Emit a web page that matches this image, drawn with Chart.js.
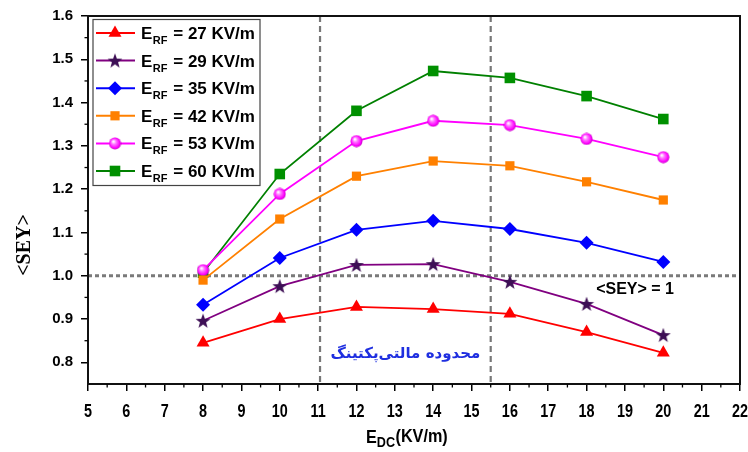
<!DOCTYPE html>
<html><head><meta charset="utf-8">
<script src="https://cdn.jsdelivr.net/npm/chart.js@4/dist/chart.umd.min.js"></script>
<style>html,body{margin:0;padding:0;background:#fff}</style>
</head><body><canvas id="c" width="748" height="452"></canvas>
<script>
const xValues = [8, 10, 12, 14, 16, 18, 20];
const fieldLabels = ['27', '29', '35', '42', '53', '60'];
const sey27 = [0.845, 0.900, 0.928, 0.923, 0.912, 0.870, 0.822];
const sey29 = [0.896, 0.976, 1.025, 1.027, 0.986, 0.935, 0.863];
const sey35 = [0.933, 1.041, 1.106, 1.127, 1.108, 1.076, 1.032];
const sey42 = [0.990, 1.131, 1.230, 1.265, 1.254, 1.217, 1.175];
const sey53 = [1.013, 1.189, 1.311, 1.358, 1.348, 1.316, 1.274];
const sey60 = [1.007, 1.235, 1.381, 1.473, 1.457, 1.415, 1.362];
const yTickValues = [0.8, 0.9, 1.0, 1.1, 1.2, 1.3, 1.4, 1.5, 1.6];
const multipactingBounds = [11.05, 15.5];
const thresholdSEY = 1.0;
const thresholdLabel = '<SEY> = 1';
const regionLabel = 'محدوده مالتی‌پکتینگ';

function makeStar(){
  const c=document.createElement('canvas');c.width=16;c.height=16;
  const g=c.getContext('2d');g.fillStyle='#3d0f55';g.beginPath();
  for(let i=0;i<10;i++){const r=i%2?3.2:7.8;const a=-Math.PI/2+i*Math.PI/5;
    g.lineTo(8+r*Math.cos(a),8.6+r*Math.sin(a));}
  g.closePath();g.fill();return c;
}
function makeSphere(){
  const c=document.createElement('canvas');c.width=13;c.height=13;
  const g=c.getContext('2d');
  const gr=g.createRadialGradient(4.8,4.5,0.5,6.5,6.5,6.5);
  gr.addColorStop(0,'#ffffff');gr.addColorStop(0.3,'#ff7cff');gr.addColorStop(0.75,'#ff00ff');gr.addColorStop(1,'#b000b0');
  g.fillStyle=gr;g.beginPath();g.arc(6.5,6.5,6,0,Math.PI*2);g.fill();return c;
}
const starImg=makeStar(), sphereImg=makeSphere();

const series=[sey27,sey29,sey35,sey42,sey53,sey60];
const lineColors=['#ff0000','#800080','#0000ff','#ff8000','#ff00ff','#008000'];
const fillColors=['#ff0000','#3d0f55','#0000ff','#ff8000','#ff00ff','#009000'];
const styles=['triangle',starImg,'rectRot','rect',sphereImg,'rect'];
const radii=[7.5,7,7,6.5,6,7.5];

const datasets=series.map((s,i)=>({
  label:'E_RF = '+fieldLabels[i]+' KV/m',
  data:xValues.map((x,j)=>({x:x,y:s[j]})),
  borderColor:lineColors[i],backgroundColor:fillColors[i],
  pointBackgroundColor:fillColors[i],pointBorderColor:fillColors[i],
  pointStyle:styles[i],pointRadius:radii[i],pointBorderWidth:0,
  borderWidth:1.8,tension:0
}));

function narrowText(ctx,text,x,y,sx){
  ctx.save();ctx.translate(x,y);ctx.scale(sx,1);ctx.fillText(text,0,0);ctx.restore();
}

const decor={
  id:'decor',
  beforeDatasetsDraw(chart){
    const {ctx,chartArea:a,scales:{x,y}}=chart;
    ctx.save();
    ctx.strokeStyle='#777';ctx.lineWidth=2.2;ctx.setLineDash([6,4]);
    multipactingBounds.forEach(v=>{const px=x.getPixelForValue(v);
      ctx.beginPath();ctx.moveTo(px,a.top);ctx.lineTo(px,a.bottom);ctx.stroke();});
    ctx.strokeStyle='#7a7a7a';ctx.lineWidth=2.8;ctx.setLineDash([4,3]);
    const py=y.getPixelForValue(thresholdSEY);
    ctx.beginPath();ctx.moveTo(a.left,py);ctx.lineTo(a.right,py);ctx.stroke();
    ctx.restore();
  },
  afterDraw(chart){
    const {ctx,chartArea:a,scales:{x,y}}=chart;
    ctx.save();
    // frame
    ctx.strokeStyle='#111';ctx.lineWidth=2;ctx.setLineDash([]);
    ctx.strokeRect(a.left,a.top,a.right-a.left,a.bottom-a.top);
    // minor ticks
    ctx.lineWidth=1.3;ctx.strokeStyle='#000';
    for(let v=5.5;v<22;v+=1){const px=x.getPixelForValue(v);
      ctx.beginPath();ctx.moveTo(px,a.bottom);ctx.lineTo(px,a.bottom+3.5);ctx.stroke();}
    for(let v=0.85;v<1.6;v+=0.1){const py=y.getPixelForValue(v);
      ctx.beginPath();ctx.moveTo(a.left,py);ctx.lineTo(a.left-3.5,py);ctx.stroke();}
    // x tick labels (condensed bold)
    ctx.fillStyle='#000';ctx.textAlign='center';ctx.textBaseline='alphabetic';
    ctx.font='bold 18px "Liberation Sans", Arial, sans-serif';
    x.ticks.forEach(t=>{narrowText(ctx,String(t.value),x.getPixelForValue(t.value),417,0.8);});
    // texts
    ctx.textBaseline='middle';ctx.textAlign='left';
    ctx.font='bold 16px "Liberation Sans", Arial, sans-serif';
    ctx.fillText(thresholdLabel,x.getPixelForValue(18.25),y.getPixelForValue(thresholdSEY)+14);
    ctx.fillStyle='#1f2fe0';ctx.textAlign='center';ctx.direction='rtl';
    ctx.font='bold 15px "DejaVu Sans", "Noto Sans", sans-serif';
    ctx.fillText(regionLabel,x.getPixelForValue((multipactingBounds[0]+multipactingBounds[1])/2),y.getPixelForValue(0.82));
    ctx.direction='ltr';
    // y title
    ctx.save();ctx.translate(25,245);ctx.rotate(-Math.PI/2);
    ctx.fillStyle='#000';ctx.textAlign='center';ctx.textBaseline='middle';
    ctx.font='bold 20px "Liberation Serif", "Times New Roman", serif';
    ctx.fillText('<SEY>',0,0);ctx.restore();
    // x title
    ctx.textAlign='left';ctx.textBaseline='alphabetic';ctx.fillStyle='#000';
    ctx.font='bold 18px "Liberation Sans", Arial, sans-serif';
    let tx=366, ty=443;
    narrowText(ctx,'E',tx,ty,0.9);tx+=ctx.measureText('E').width*0.9;
    ctx.font='bold 14px "Liberation Sans", Arial, sans-serif';
    narrowText(ctx,'DC',tx,ty+4,0.9);tx+=ctx.measureText('DC').width*0.9+0.5;
    ctx.font='bold 18px "Liberation Sans", Arial, sans-serif';
    narrowText(ctx,'(KV/m)',tx,ty-1,0.9);
    // legend
    const lx=93, ly=19.5, lw=167, lh=166;
    ctx.fillStyle='#fff';ctx.fillRect(lx,ly,lw,lh);
    ctx.strokeStyle='#444';ctx.lineWidth=1.2;ctx.strokeRect(lx,ly,lw,lh);
    chart.data.datasets.forEach((d,i)=>{
      const ry=33+i*27.6;
      ctx.strokeStyle=d.borderColor;ctx.lineWidth=2;ctx.setLineDash([]);
      ctx.beginPath();ctx.moveTo(96,ry);ctx.lineTo(135,ry);ctx.stroke();
      ctx.fillStyle=d.pointBackgroundColor;ctx.strokeStyle=d.pointBorderColor;
      Chart.helpers.drawPoint(ctx,{pointStyle:d.pointStyle,radius:d.pointRadius,rotation:0,borderWidth:0},115,ry);
      ctx.fillStyle='#000';ctx.textBaseline='alphabetic';
      let t=141;
      ctx.font='bold 17px "Liberation Sans", Arial, sans-serif';
      ctx.fillText('E',t,ry+6);t+=ctx.measureText('E').width+0.5;
      ctx.font='bold 11px "Liberation Sans", Arial, sans-serif';
      ctx.fillText('RF',t,ry+11);t+=ctx.measureText('RF').width+1;
      ctx.font='bold 17px "Liberation Sans", Arial, sans-serif';
      ctx.fillText(' = '+fieldLabels[i]+' KV/m',t,ry+6);
    });
    ctx.restore();
  }
};

new Chart(document.getElementById('c'),{
  type:'line',
  data:{datasets},
  options:{
    responsive:false,animation:false,devicePixelRatio:1,
    layout:{padding:{top:16,right:8,left:0,bottom:0}},
    plugins:{legend:{display:false},tooltip:{enabled:false}},
    scales:{
      x:{type:'linear',min:5,max:22,
        afterFit(s){s.height=68;s.paddingRight=0;s.paddingLeft=0;},
        ticks:{stepSize:1,display:false},
        grid:{drawOnChartArea:false,drawTicks:true,tickLength:7,color:'#000',lineWidth:1.5},
        border:{display:true,color:'#000',width:2}},
      y:{type:'linear',min:0.75,max:1.6,
        afterFit(s){s.width=88;s.paddingTop=0;s.paddingBottom=0;},
        afterBuildTicks(s){s.ticks=yTickValues.map(v=>({value:v}));},
        ticks:{color:'#000',padding:8,callback:v=>Number(v).toFixed(1),
          font:{family:'"Liberation Sans", Arial, sans-serif',weight:'bold',size:15}},
        grid:{drawOnChartArea:false,drawTicks:true,tickLength:7,color:'#000',lineWidth:1.5},
        border:{display:true,color:'#000',width:2}}
    }
  },
  plugins:[decor]
});
</script></body></html>
